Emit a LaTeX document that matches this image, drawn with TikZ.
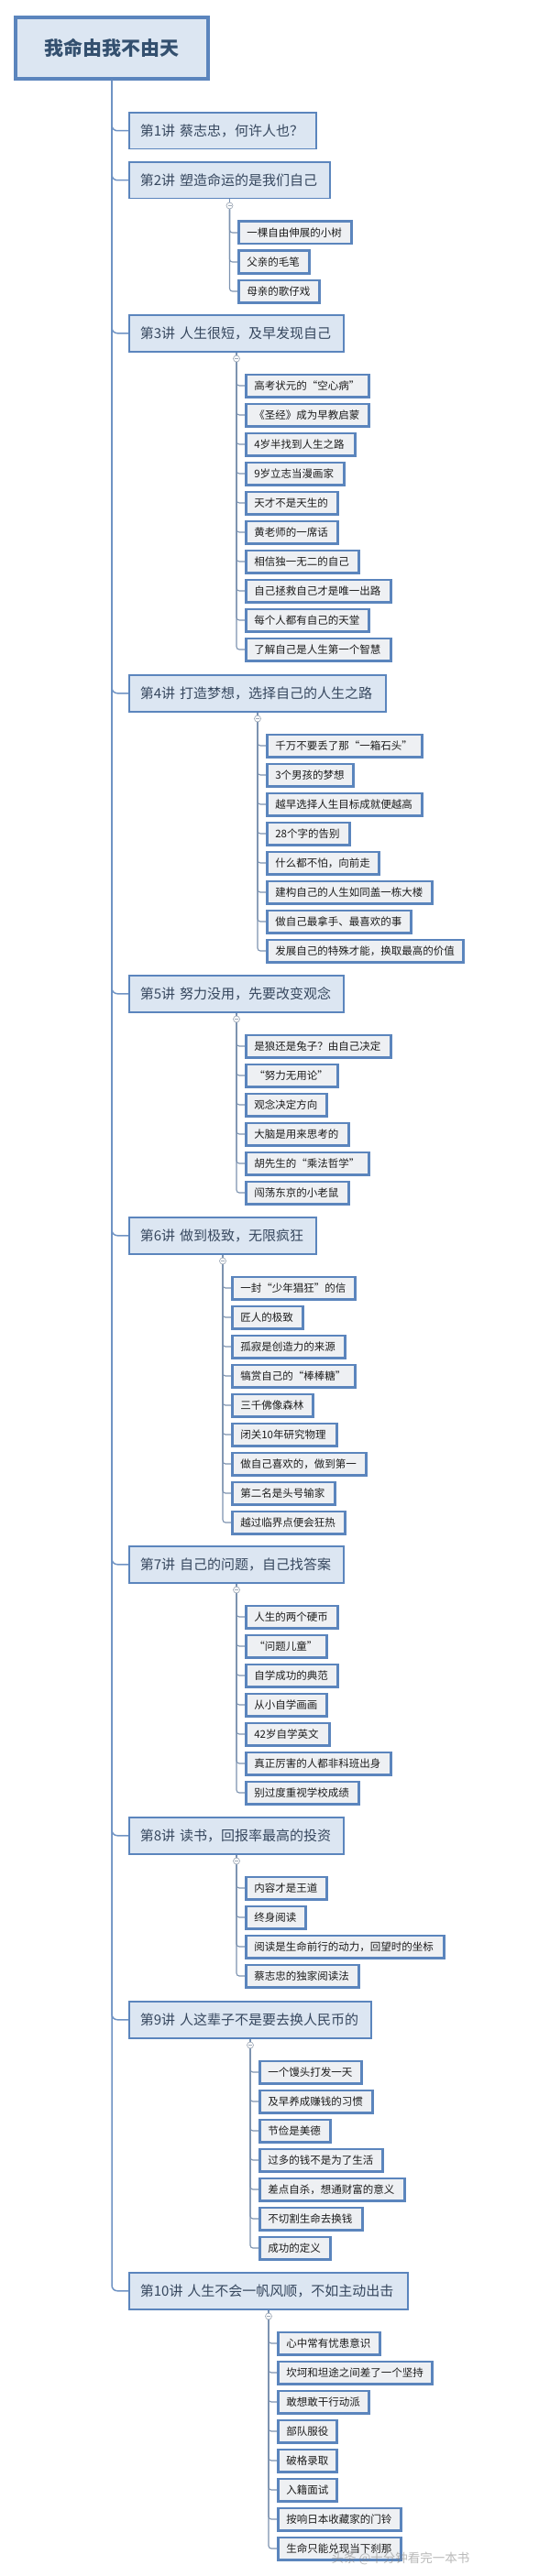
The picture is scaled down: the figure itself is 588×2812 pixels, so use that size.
\documentclass[tikz,border=0pt]{standalone}
\usepackage{fontspec}
\newfontfamily\cjk{Noto Sans CJK SC}
\usetikzlibrary{calc}
\definecolor{boxblue}{HTML}{5B85BD}
\definecolor{topicfill}{HTML}{DCE6F2}
\definecolor{kidfill}{HTML}{EEF0F3}
\definecolor{roottext}{HTML}{34506F}
\definecolor{topictext}{HTML}{36475E}
\definecolor{kidtext}{HTML}{1C1C1C}
\definecolor{mainln}{HTML}{6F93C4}
\definecolor{subln}{HTML}{7D93B0}
\definecolor{knob}{HTML}{A0AAB8}
\tikzset{
  x=1pt, y=-1pt,
  rootbox/.style={draw=boxblue, line width=4pt, fill=topicfill, anchor=north west,
    minimum width=210pt, minimum height=67pt, inner sep=0pt,
    font=\cjk\bfseries\fontsize{21}{25}\selectfont, text=roottext},
  topicbox/.style={draw=boxblue, line width=1.7pt, fill=topicfill, anchor=north west,
    inner xsep=12pt, inner ysep=0pt, minimum height=39.8pt, align=left,
    font=\cjk\fontsize{15}{18}\selectfont, text=topictext},
  kidbox/.style={draw=boxblue, line width=2.7pt, fill=kidfill, anchor=north west,
    inner xsep=9pt, inner ysep=0pt, minimum height=24.3pt, align=left,
    font=\cjk\fontsize{11.5}{14}\selectfont, text=kidtext},
  mainline/.style={draw=mainln, line width=1.5pt, rounded corners=6pt},
  subline/.style={draw=subln, line width=1.1pt, rounded corners=3pt},
  collapse/.style={circle, draw=knob, fill=white, line width=0.7pt, minimum size=7pt, inner sep=0pt,
    path picture={\draw[knob, line width=0.7pt] ([xshift=-2pt]path picture bounding box.center) -- ([xshift=2pt]path picture bounding box.center);}},
  watermark/.style={font=\cjk\fontsize{13.5}{16}\selectfont, text=gray, opacity=0.55}
}
\newcommand\mmTopic[4]{%
  \pgfmathsetmacro\mmtw{#3-140-1.7-24}%
  \node[topicbox, text width=\mmtw pt] (#1) at (140,#2) {\mbox{#4}};
  \draw[mainline] (root.south) |- (#1.west);
}
\newcommand\mmCollapse[1]{%
  \node[collapse] (#1c) at ($(#1.south)+(0,7)$) {};
  \draw[subline] (#1.south) -- (#1c.north);
}
\newcommand\mmKid[6]{%
  \pgfmathsetmacro\mmtw{#5-#3-2.7-18}%
  \node[kidbox, text width=\mmtw pt] (#2) at (#3,#4) {\mbox{#6}};
  \draw[subline] (#1c.south) |- (#2.west);
}
\begin{document}
\begin{tikzpicture}
\fill[white] (0,0) rectangle (588,2812);
\useasboundingbox (0,0) rectangle (588,2812);

\node[rootbox] (root) at (15,17) {我命由我不由天};

\mmTopic{T1}{122}{346}{第1讲 蔡志忠，何许人也？}

\mmTopic{T2}{176}{361}{第2讲 塑造命运的是我们自己}
\mmCollapse{T2}
\mmKid{T2}{T2a}{259}{240.5}{385}{一棵自由伸展的小树}
\mmKid{T2}{T2b}{259}{272.5}{339}{父亲的毛笔}
\mmKid{T2}{T2d}{259}{304.5}{350}{母亲的歌仔戏}

\mmTopic{T3}{343}{376}{第3讲 人生很短，及早发现自己}
\mmCollapse{T3}
\mmKid{T3}{T3a}{267}{407.5}{404}{高考状元的“空心病”}
\mmKid{T3}{T3b}{267}{439.5}{404}{《圣经》成为早教启蒙}
\mmKid{T3}{T3d}{267}{471.5}{389}{4岁半找到人生之路}
\mmKid{T3}{T3e}{267}{503.5}{377}{9岁立志当漫画家}
\mmKid{T3}{T3f}{267}{535.5}{370}{天才不是天生的}
\mmKid{T3}{T3g}{267}{567.5}{370}{黄老师的一席话}
\mmKid{T3}{T3h}{267}{599.5}{393}{相信独一无二的自己}
\mmKid{T3}{T3i}{267}{631.5}{428}{自己拯救自己才是唯一出路}
\mmKid{T3}{T3j}{267}{663.5}{404}{每个人都有自己的天堂}
\mmKid{T3}{T3k}{267}{695.5}{428}{了解自己是人生第一个智慧}

\mmTopic{T4}{736}{422}{第4讲 打造梦想，选择自己的人生之路}
\mmCollapse{T4}
\mmKid{T4}{T4a}{290}{800.5}{462}{千万不要丢了那“一箱石头”}
\mmKid{T4}{T4b}{290}{832.5}{387}{3个男孩的梦想}
\mmKid{T4}{T4d}{290}{864.5}{462}{越早选择人生目标成就便越高}
\mmKid{T4}{T4e}{290}{896.5}{383}{28个字的告别}
\mmKid{T4}{T4f}{290}{928.5}{415}{什么都不怕，向前走}
\mmKid{T4}{T4g}{290}{960.5}{473}{建构自己的人生如同盖一栋大楼}
\mmKid{T4}{T4h}{290}{992.5}{450}{做自己最拿手、最喜欢的事}
\mmKid{T4}{T4i}{290}{1024.5}{507}{发展自己的特殊才能，换取最高的价值}

\mmTopic{T5}{1064}{376}{第5讲 努力没用，先要改变观念}
\mmCollapse{T5}
\mmKid{T5}{T5a}{267}{1128.5}{428}{是狼还是兔子？由自己决定}
\mmKid{T5}{T5b}{267}{1160.5}{370}{“努力无用论”}
\mmKid{T5}{T5d}{267}{1192.5}{358}{观念决定方向}
\mmKid{T5}{T5e}{267}{1224.5}{382}{大脑是用来思考的}
\mmKid{T5}{T5f}{267}{1256.5}{404}{胡先生的“乘法哲学”}
\mmKid{T5}{T5g}{267}{1288.5}{382}{闯荡东京的小老鼠}

\mmTopic{T6}{1328}{346}{第6讲 做到极致，无限疯狂}
\mmCollapse{T6}
\mmKid{T6}{T6a}{252}{1392.5}{389}{一封“少年猖狂”的信}
\mmKid{T6}{T6b}{252}{1424.5}{332}{匠人的极致}
\mmKid{T6}{T6d}{252}{1456.5}{378}{孤寂是创造力的来源}
\mmKid{T6}{T6e}{252}{1488.5}{389}{犒赏自己的“棒棒糖”}
\mmKid{T6}{T6f}{252}{1520.5}{343}{三千佛像森林}
\mmKid{T6}{T6g}{252}{1552.5}{369}{闭关10年研究物理}
\mmKid{T6}{T6h}{252}{1584.5}{401}{做自己喜欢的，做到第一}
\mmKid{T6}{T6i}{252}{1616.5}{367}{第二名是头号输家}
\mmKid{T6}{T6j}{252}{1648.5}{378}{越过临界点便会狂热}

\mmTopic{T7}{1687}{376}{第7讲 自己的问题，自己找答案}
\mmCollapse{T7}
\mmKid{T7}{T7a}{267}{1751.5}{370}{人生的两个硬币}
\mmKid{T7}{T7b}{267}{1783.5}{358}{“问题儿童”}
\mmKid{T7}{T7d}{267}{1815.5}{370}{自学成功的典范}
\mmKid{T7}{T7e}{267}{1847.5}{358}{从小自学画画}
\mmKid{T7}{T7f}{267}{1879.5}{361}{42岁自学英文}
\mmKid{T7}{T7g}{267}{1911.5}{428}{真正厉害的人都非科班出身}
\mmKid{T7}{T7h}{267}{1943.5}{393}{别过度重视学校成绩}

\mmTopic{T8}{1983}{376}{第8讲 读书，回报率最高的投资}
\mmCollapse{T8}
\mmKid{T8}{T8a}{267}{2047.5}{358}{内容才是王道}
\mmKid{T8}{T8b}{267}{2079.5}{335}{终身阅读}
\mmKid{T8}{T8d}{267}{2111.5}{486}{阅读是生命前行的动力，回望时的坐标}
\mmKid{T8}{T8e}{267}{2143.5}{393}{蔡志忠的独家阅读法}

\mmTopic{T9}{2184}{406}{第9讲 人这辈子不是要去换人民币的}
\mmCollapse{T9}
\mmKid{T9}{T9a}{282}{2248.5}{396}{一个馒头打发一天}
\mmKid{T9}{T9b}{282}{2280.5}{408}{及早养成赚钱的习惯}
\mmKid{T9}{T9d}{282}{2312.5}{362}{节俭是美德}
\mmKid{T9}{T9e}{282}{2344.5}{419}{过多的钱不是为了生活}
\mmKid{T9}{T9f}{282}{2376.5}{443}{差点自杀，想通财富的意义}
\mmKid{T9}{T9g}{282}{2408.5}{397}{不切割生命去换钱}
\mmKid{T9}{T9h}{282}{2440.5}{362}{成功的定义}

\mmTopic{T10}{2480}{446}{第10讲 人生不会一帆风顺，不如主动出击}
\mmCollapse{T10}
\mmKid{T10}{T10a}{302}{2544.5}{416}{心中常有忧患意识}
\mmKid{T10}{T10b}{302}{2576.5}{473}{坎坷和坦途之间差了一个坚持}
\mmKid{T10}{T10d}{302}{2608.5}{404}{敢想敢干行动派}
\mmKid{T10}{T10e}{302}{2640.5}{369}{部队服役}
\mmKid{T10}{T10f}{302}{2672.5}{369}{破格录取}
\mmKid{T10}{T10g}{302}{2704.5}{369}{入籍面试}
\mmKid{T10}{T10h}{302}{2736.5}{439}{按响日本收藏家的门铃}
\mmKid{T10}{T10i}{302}{2768.5}{439}{生命只能兑现当下刹那}

\node[watermark] (wm) at (437,2793) {头条 @十分钟看完一本书};
\end{tikzpicture}
\end{document}
